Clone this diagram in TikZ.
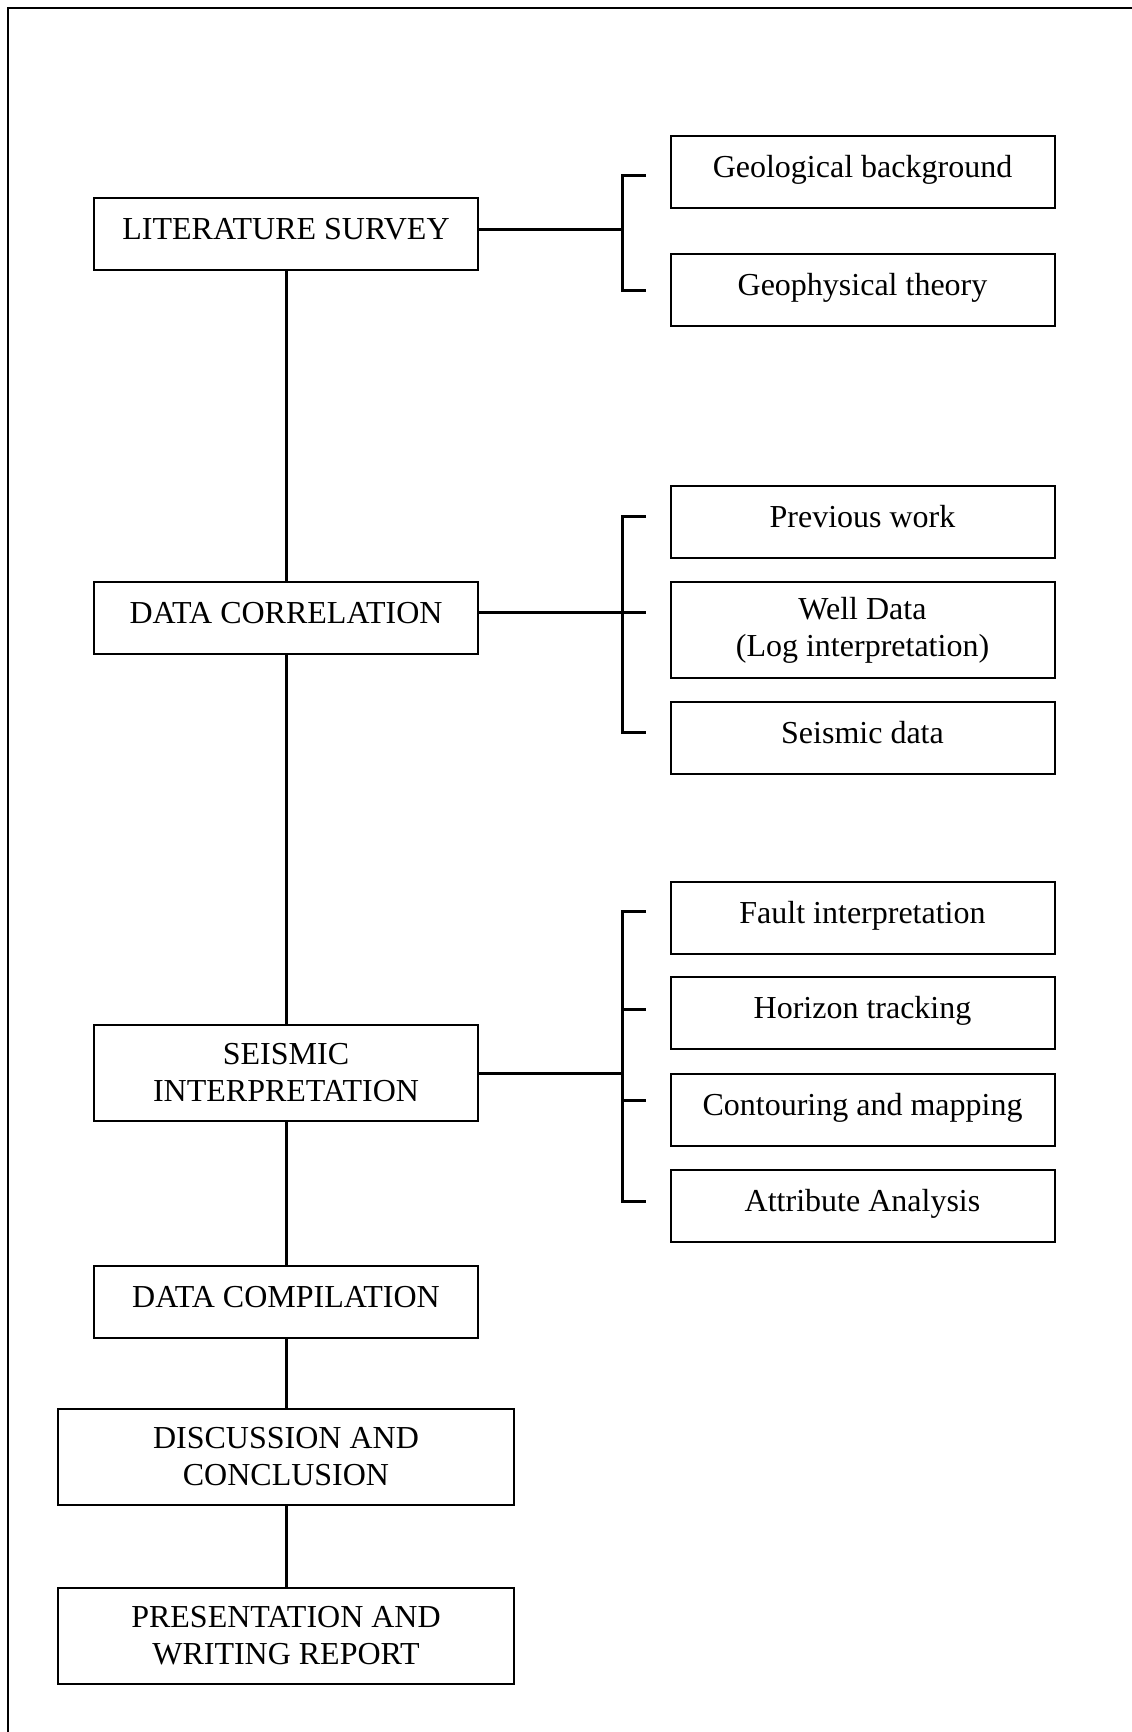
\documentclass[tikz,border=0pt]{standalone}
\usepackage{fontspec}
\setmainfont{Liberation Serif}
\begin{document}
\begin{tikzpicture}[x=1pt,y=-1pt,
  box/.style={draw, line width=2pt, inner sep=0pt, minimum width=384pt, align=center, font=\fontsize{32}{37}\selectfont},
  one/.style={box, minimum height=72pt, text height=24pt, text depth=12.8pt},
  two/.style={box, minimum height=96pt},
  wide/.style={minimum width=456pt},
  link/.style={line width=3pt}]
\useasboundingbox (0,0) rectangle (1132,1732);
\draw[line width=2pt] (8,1732) -- (8,8) -- (1132,8);

% main column
\node[one] (ls) at (286,234) {LITERATURE SURVEY};
\node[one] (dc) at (286,618) {DATA CORRELATION};
\node[two] (si) at (286,1073) {SEISMIC\\INTERPRETATION};
\node[one] (dcomp) at (286,1301.5) {DATA COMPILATION};
\node[two, wide] (disc) at (286,1457) {DISCUSSION AND\\CONCLUSION};
\node[two, wide] (pres) at (286,1636) {PRESENTATION AND\\WRITING REPORT};

% right column
\node[one] (gb) at (862.5,172) {Geological background};
\node[one] (gt) at (862.5,290) {Geophysical theory};
\node[one] (pw) at (862.5,522) {Previous work};
\node[two] (wd) at (862.5,630.3) {Well Data\\(Log interpretation)};
\node[one] (sd) at (862.5,738) {Seismic data};
\node[one] (fi) at (862.5,917.5) {Fault interpretation};
\node[one] (ht) at (862.5,1013.3) {Horizon tracking};
\node[one] (cm) at (862.5,1109.5) {Contouring and mapping};
\node[one] (aa) at (862.5,1205.5) {Attribute Analysis};

% vertical spine
\draw[link] (ls.south) -- (dc.north);
\draw[link] (dc.south) -- (si.north);
\draw[link] (si.south) -- (dcomp.north);
\draw[link] (dcomp.south) -- (disc.north);
\draw[link] (disc.south) -- (pres.north);

% bracket x positions
\coordinate (bx) at (622,0);
\coordinate (tx) at (646,0);

% group 1
\coordinate (t1a) at ([yshift=-3pt]gb.west);
\coordinate (t1b) at (gt.west);
\coordinate (l1) at ([yshift=4.7pt]ls.east);
\draw[link] (t1a -| tx) -- (t1a -| bx) -- (t1b -| bx) -- (t1b -| tx);
\draw[link] (l1) -- (l1 -| bx);

% group 2
\coordinate (t2a) at ([yshift=6pt]pw.west);
\coordinate (t2c) at ([yshift=6pt]sd.west);
\coordinate (l2) at ([yshift=5.7pt]dc.east);
\draw[link] (t2a -| tx) -- (t2a -| bx) -- (t2c -| bx) -- (t2c -| tx);
\draw[link] (l2) -- (l2 -| tx);

% group 3
\coordinate (t3a) at ([yshift=5.8pt]fi.west);
\coordinate (t3b) at ([yshift=4pt]ht.west);
\coordinate (t3c) at ([yshift=9.2pt]cm.west);
\coordinate (t3d) at ([yshift=3.8pt]aa.west);
\draw[link] (t3a -| tx) -- (t3a -| bx) -- (t3d -| bx) -- (t3d -| tx);
\draw[link] (t3b -| bx) -- (t3b -| tx);
\draw[link] (t3c -| bx) -- (t3c -| tx);
\draw[link] (si.east) -- (si.east -| bx);
\end{tikzpicture}
\end{document}
